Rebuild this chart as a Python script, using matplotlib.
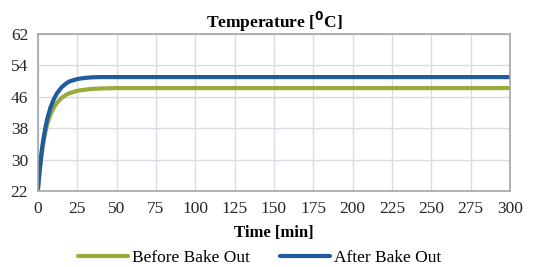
import matplotlib
matplotlib.use("Agg")
import matplotlib.pyplot as plt

time_min = [0, 1, 2, 3, 4, 5, 6, 8, 10, 12, 15, 18, 20, 25, 30, 35, 40, 50, 60, 80,
            100, 125, 150, 175, 200, 225, 250, 275, 300]
before = [22.5, 26.5, 30.0, 33.0, 35.5, 37.5, 39.2, 41.5, 43.2, 44.4, 45.7, 46.5, 46.9,
          47.5, 47.8, 48.0, 48.1, 48.2, 48.2, 48.2, 48.2, 48.2, 48.2, 48.2, 48.2, 48.2,
          48.2, 48.2, 48.2]
after = [22.5, 27.0, 31.0, 34.0, 36.5, 38.6, 40.5, 43.3, 45.3, 46.8, 48.4, 49.4, 49.9,
         50.5, 50.8, 50.95, 51.0, 51.0, 51.0, 51.0, 51.0, 51.0, 51.0, 51.0, 51.0, 51.0,
         51.0, 51.0, 51.0]
x_ticks = list(range(0, 301, 25))
y_ticks = [22, 30, 38, 46, 54, 62]

plt.rcParams['font.family'] = ['Liberation Serif', 'DejaVu Serif']
plt.rcParams['mathtext.fontset'] = 'dejavusans'

fig = plt.figure(figsize=(5.5, 2.67), dpi=100)
ax = fig.add_axes([0.069, 0.285, 0.858, 0.588])

ax.plot(time_min, before, color='#9aab3a', lw=3.0, label='Before Bake Out', solid_capstyle='round')
ax.plot(time_min, after, color='#1f5c9e', lw=3.0, label='After Bake Out', solid_capstyle='round')

ax.set_xlim(0, 300)
ax.set_ylim(22, 62)
ax.set_xticks(x_ticks)
ax.set_yticks(y_ticks)
ax.grid(True, color='#d9dde3', lw=1.0)
ax.set_axisbelow(True)
for s in ax.spines.values():
    s.set_color('#a6a6a6')
    s.set_linewidth(1.2)
ax.tick_params(length=0, labelsize=12.5, colors='#262626', pad=7)

ax.set_title(r'Temperature [$\mathbf{^0}$C]', fontsize=12.5, fontweight='bold', pad=3)
ax.set_xlabel('Time [min]', fontsize=12, fontweight='bold', labelpad=6)
ax.legend(loc='center', bbox_to_anchor=(0.47, -0.43), ncol=2, frameon=False,
          fontsize=12.5, handlelength=2.9, columnspacing=1.7, handletextpad=0.25,
          borderpad=0.1)

fig.savefig('out.png', dpi=100)
